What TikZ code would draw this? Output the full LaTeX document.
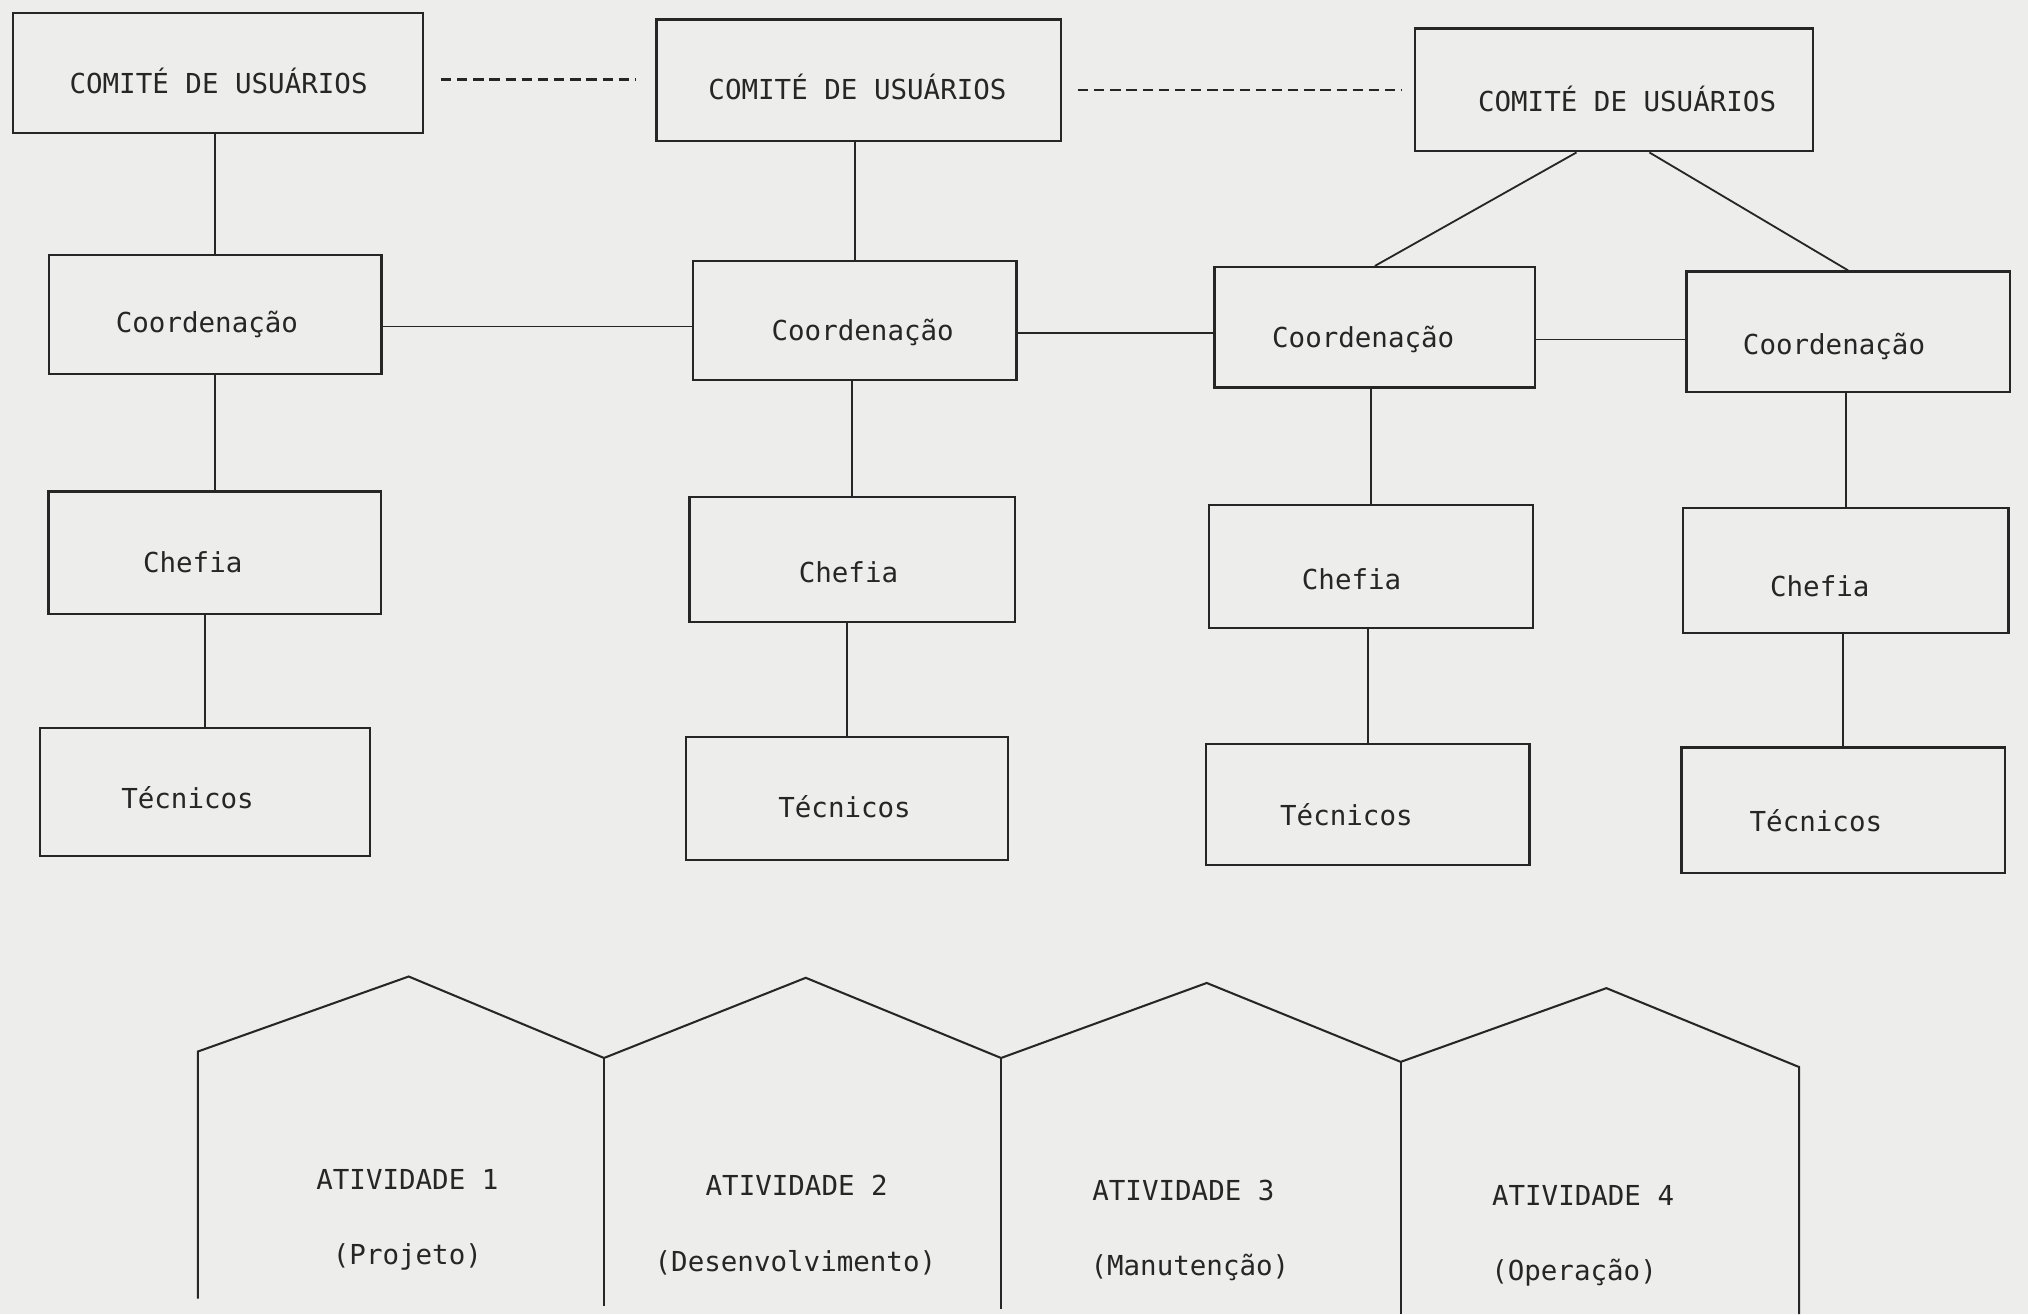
\documentclass[tikz,border=0pt]{standalone}
\usepackage{fontspec}
\newfontfamily\tw{DejaVu Sans Mono}
\usetikzlibrary{calc}
\definecolor{paper}{RGB}{237,237,235}
\definecolor{ink}{RGB}{38,38,38}
\begin{document}
\begin{tikzpicture}[x=0.2mm,y=-0.2mm,
  box/.style={draw=ink,line width=1pt,inner sep=0pt},
  lbl/.style={font=\tw\fontsize{12.1}{14}\selectfont,text=ink,inner sep=0pt,anchor=base},
  link/.style={draw=ink,line width=0.8pt},
  dlink/.style={draw=ink,line width=1pt,dash pattern=on 1.6mm off 0.9mm},
  wall/.style={draw=ink,line width=0.9pt,line join=miter}]
\fill[paper] (0,0) rectangle (1568,1016);
\useasboundingbox (0,0) rectangle (1568,1016);

% Comite boxes
\node[box,minimum width=63.4mm,minimum height=18.6mm] (C1) at (168.5,56.5) {};
\node[box,minimum width=62.6mm,minimum height=18.8mm] (C2) at (664,62) {};
\node[box,minimum width=61.6mm,minimum height=19mm] (C3) at (1248,69.5) {};
% Coordenacao boxes
\node[box,minimum width=51.4mm,minimum height=18.4mm] (K1) at (166.5,243) {};
\node[box,minimum width=50mm,minimum height=18.4mm] (K2) at (661,248) {};
\node[box,minimum width=49.6mm,minimum height=18.6mm] (K3) at (1063,253) {};
\node[box,minimum width=50mm,minimum height=18.6mm] (K4) at (1429,256.5) {};
% Chefia boxes
\node[box,minimum width=51.4mm,minimum height=19mm] (H1) at (166,427.5) {};
\node[box,minimum width=50.4mm,minimum height=19.4mm] (H2) at (659,432.5) {};
\node[box,minimum width=50mm,minimum height=19mm] (H3) at (1060,438) {};
\node[box,minimum width=50.4mm,minimum height=19.4mm] (H4) at (1427,441) {};
% Tecnicos boxes
\node[box,minimum width=51mm,minimum height=19.8mm] (T1) at (158.5,612.5) {};
\node[box,minimum width=49.8mm,minimum height=19mm] (T2) at (655,617.5) {};
\node[box,minimum width=50mm,minimum height=18.8mm] (T3) at (1057.5,622) {};
\node[box,minimum width=50mm,minimum height=19.4mm] (T4) at (1425,626.5) {};

% labels
\node[lbl] (tC1) at (169,72) {COMITÉ DE USUÁRIOS};
\node[lbl] (tC2) at (663,77) {COMITÉ DE USUÁRIOS};
\node[lbl] (tC3) at (1258,86) {COMITÉ DE USUÁRIOS};
\node[lbl] (tK1) at (160,257) {Coordenação};
\node[lbl] (tK2) at (667,263) {Coordenação};
\node[lbl] (tK3) at (1054,269) {Coordenação};
\node[lbl] (tK4) at (1418,274) {Coordenação};
\node[lbl] (tH1) at (149,443) {Chefia};
\node[lbl] (tH2) at (656,450) {Chefia};
\node[lbl] (tH3) at (1045,456) {Chefia};
\node[lbl] (tH4) at (1407,461) {Chefia};
\node[lbl] (tT1) at (145,625) {Técnicos};
\node[lbl] (tT2) at (653,632) {Técnicos};
\node[lbl] (tT3) at (1041,638) {Técnicos};
\node[lbl] (tT4) at (1404,643) {Técnicos};

% dashed links between committees
\draw[dlink,shorten <=2.6mm,shorten >=3mm]
  ($(C1.north east)!0.553!(C1.south east)$) coordinate (d1) -- (d1 -| C2.west);
\draw[dlink,shorten <=2.4mm,shorten >=1.8mm]
  ($(C2.north east)!0.58!(C2.south east)$) coordinate (d2) -- (d2 -| C3.west);

% vertical links
\draw[link] (K1.north) -- (K1.north |- C1.south);
\draw[link] (K2.north) -- (K2.north |- C2.south);
\draw[link] (H1.north) -- (H1.north |- K1.south);
\draw[link] (H2.north) -- (H2.north |- K2.south);
\draw[link] (H3.north) -- (H3.north |- K3.south);
\draw[link] (H4.north) -- (H4.north |- K4.south);
\draw[link] (T1.north) -- (T1.north |- H1.south);
\draw[link] (T2.north) -- (T2.north |- H2.south);
\draw[link] (T3.north) -- (T3.north |- H3.south);
\draw[link] (T4.north) -- (T4.north |- H4.south);

% diagonal links from third committee
\draw[link] ($(C3.south west)!0.406!(C3.south east)$) -- (K3.north);
\draw[link] ($(C3.south west)!0.588!(C3.south east)$) -- (K4.north);

% horizontal links between coordinations
\draw[link] ($(K1.north east)!0.6!(K1.south east)$) coordinate (h1) -- (h1 -| K2.west);
\draw[link] ($(K2.north east)!0.6!(K2.south east)$) coordinate (h2) -- (h2 -| K3.west);
\draw[link] ($(K3.north east)!0.6!(K3.south east)$) coordinate (h3) -- (h3 -| K4.west);

% activity houses
\coordinate (w0) at (153,1004);
\coordinate (r0) at (153,813);
\coordinate (p1) at (316,755);
\coordinate (v1) at (467,818);
\coordinate (p2) at (623,756);
\coordinate (v2) at (774,818);
\coordinate (p3) at (933,760);
\coordinate (v3) at (1083,821);
\coordinate (p4) at (1242,764);
\coordinate (r4) at (1391,825);
\coordinate (w4) at (1391,1016);
\draw[wall] (w0) -- (r0) -- (p1) -- (v1) -- (p2) -- (v2) -- (p3) -- (v3) -- (p4) -- (r4) -- (w4);
\draw[wall] (v1) -- (v1 |- 0,1010);
\draw[wall] (v2) -- (v2 |- 0,1012);
\draw[wall] (v3) -- (v3 |- 0,1016);

\node[lbl] (a1) at (315,920) {ATIVIDADE 1};
\node[lbl] (b1) at (315,978) {(Projeto)};
\node[lbl] (a2) at (616,924) {ATIVIDADE 2};
\node[lbl] (b2) at (615,983) {(Desenvolvimento)};
\node[lbl] (a3) at (915,928) {ATIVIDADE 3};
\node[lbl] (b3) at (920,986) {(Manutenção)};
\node[lbl] (a4) at (1224,932) {ATIVIDADE 4};
\node[lbl] (b4) at (1217,990) {(Operação)};
\end{tikzpicture}
\end{document}
